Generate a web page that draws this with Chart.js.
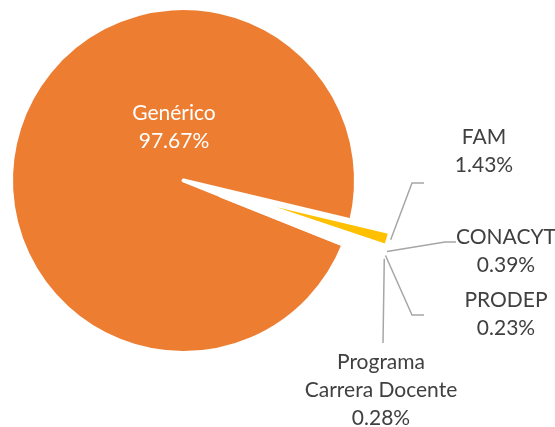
<!DOCTYPE html>
<html>
<head>
<meta charset="utf-8">
<script src="https://cdn.jsdelivr.net/npm/chart.js@4.4.0/dist/chart.umd.min.js"></script>
<style>
  html, body { margin: 0; padding: 0; background: #ffffff; }
  #wrap { width: 555px; height: 427px; position: relative; }
</style>
</head>
<body>
<div id="wrap"><canvas id="c"></canvas></div>
<script>
// ---- data ----
const categories = ['Genérico', 'FAM', 'CONACYT', 'PRODEP', 'Programa Carrera Docente'];
const values = [97.67, 1.43, 0.39, 0.23, 0.28];
const sliceColors = ['#ED7D31', '#FFC000', '#A5A5A5', '#4472C4', '#5B9BD5'];

// ---- label layout (styling / placement only) ----
const labelLayout = [
  { lines: ['Genérico'], x: 174, y: 120, color: '#FFFFFF', leader: null },
  { lines: ['FAM'], x: 484, y: 143.5, color: '#404040', leader: [[412, 183], [424, 183]] },
  { lines: ['CONACYT'], x: 506, y: 243.5, color: '#404040', leader: [[445, 242], [456, 242]] },
  { lines: ['PRODEP'], x: 506, y: 307, color: '#404040', leader: [[412, 315], [424, 315]] },
  { lines: ['Programa', 'Carrera Docente'], x: 381, y: 368.5, color: '#404040', leader: [[383, 343]] }
];
const explode = [0, 41, 41, 41, 41];
const borderWidths = [4, 5, 5, 5, 5];
const FONT = '21px Lato';
const LINE_H = 28.3;

const total = values.reduce((a, b) => a + b, 0);

const explodePlugin = {
  id: 'explode',
  afterUpdate(chart) {
    const meta = chart.getDatasetMeta(0);
    meta.data.forEach((arc, i) => {
      const e = explode[i];
      if (!e) return;
      if (arc.$baseX === undefined) { arc.$baseX = arc.x; arc.$baseY = arc.y; }
      const mid = (arc.startAngle + arc.endAngle) / 2;
      arc.x = arc.$baseX + Math.cos(mid) * e;
      arc.y = arc.$baseY + Math.sin(mid) * e;
    });
  }
};

const labelPlugin = {
  id: 'pieLabels',
  afterDatasetsDraw(chart) {
    const ctx = chart.ctx;
    const meta = chart.getDatasetMeta(0);
    ctx.save();
    meta.data.forEach((arc, i) => {
      const lay = labelLayout[i];
      if (lay.leader) {
        const mid = (arc.startAngle + arc.endAngle) / 2;
        const r = arc.outerRadius + 2;
        const sx = arc.x + Math.cos(mid) * r;
        const sy = arc.y + Math.sin(mid) * r;
        ctx.beginPath();
        ctx.moveTo(sx, sy);
        lay.leader.forEach(p => ctx.lineTo(p[0], p[1]));
        ctx.strokeStyle = '#A6A6A6';
        ctx.lineWidth = 1.5;
        ctx.stroke();
      }
      const pct = (values[i] / total * 100).toFixed(2) + '%';
      const lines = lay.lines.concat([pct]);
      ctx.font = FONT;
      ctx.fillStyle = lay.color;
      ctx.textAlign = 'center';
      ctx.textBaseline = 'alphabetic';
      lines.forEach((t, k) => ctx.fillText(t, lay.x, lay.y + k * LINE_H));
    });
    ctx.restore();
  }
};

new Chart(document.getElementById('c'), {
  type: 'pie',
  data: {
    labels: categories,
    datasets: [{
      data: values,
      backgroundColor: sliceColors,
      borderColor: '#FFFFFF',
      borderWidth: borderWidths,
      borderJoinStyle: 'round',
      rotation: 111.8,
      radius: 172.5
    }]
  },
  options: {
    responsive: true,
    maintainAspectRatio: false,
    animation: false,
    rotation: 111.8,
    radius: 172.5,
    layout: { padding: { left: 0, right: 188, top: 0, bottom: 66 } },
    plugins: {
      legend: { display: false },
      tooltip: { enabled: false }
    }
  },
  plugins: [explodePlugin, labelPlugin]
});
</script>
</body>
</html>
